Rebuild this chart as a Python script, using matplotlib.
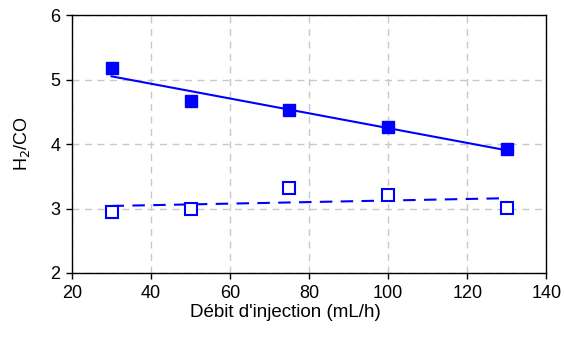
import matplotlib.pyplot as plt
import numpy as np

plt.rcParams['font.family'] = ['Liberation Sans', 'DejaVu Sans']

debit = np.array([30, 50, 75, 100, 130])
h2co_plein = np.array([5.18, 4.66, 4.52, 4.26, 3.93])
h2co_vide = np.array([2.94, 3.00, 3.32, 3.21, 3.01])

fig = plt.figure(figsize=(5.64, 3.45), dpi=100)
ax = fig.add_axes([0.1277, 0.2087, 0.8410, 0.7478])

# courbes de tendance lineaires
xx = np.array([debit.min(), debit.max()])
p1 = np.polyfit(debit, h2co_plein, 1)
p2 = np.polyfit(debit, h2co_vide, 1)
ax.plot(xx, np.polyval(p1, xx), color='#0000ff', lw=1.5, zorder=3)
ax.plot(xx, np.polyval(p2, xx), color='#0000ff', lw=1.5, ls=(0, (6, 4)), zorder=3)

ax.plot(debit, h2co_plein, 's', color='#0000ff', ms=9, zorder=4)
ax.plot(debit, h2co_vide, 's', mfc='white', mec='#0000ff', mew=1.5, ms=8, zorder=4)

ax.set_xlim(20, 140)
ax.set_ylim(2, 6)
ax.set_xticks(np.arange(20, 141, 20))
ax.set_yticks(np.arange(2, 7, 1))
ax.grid(True, color='#c8c8c8', ls=(0, (5, 4)), lw=1)
ax.set_axisbelow(True)
ax.tick_params(labelsize=13, direction='out', length=4.5, width=1, pad=4)
for s in ax.spines.values():
    s.set_linewidth(1)
ax.set_xlabel("Débit d'injection (mL/h)", fontsize=13.5)
ax.xaxis.set_label_coords(0.45, -0.122)
ax.set_ylabel("H$_2$/CO", fontsize=13)
ax.yaxis.set_label_coords(-0.085, 0.5)

fig.savefig('out.png', dpi=100)
